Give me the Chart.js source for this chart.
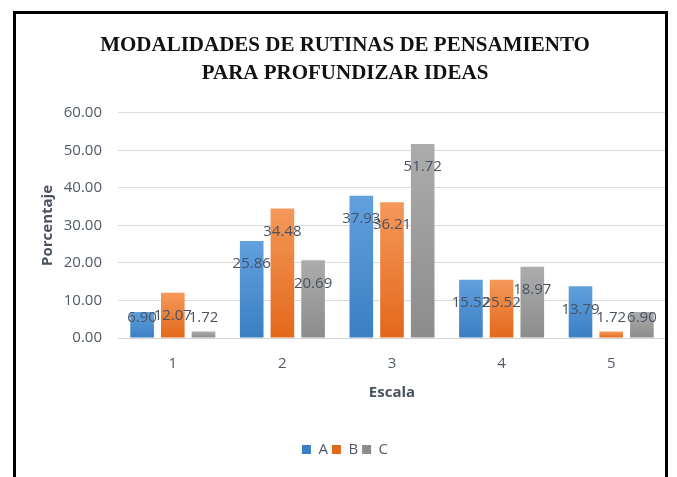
<!DOCTYPE html>
<html lang="es">
<head>
<meta charset="UTF-8">
<title>Modalidades de rutinas de pensamiento</title>
<script src="https://cdn.jsdelivr.net/npm/chart.js"></script>
<style>
    html, body { margin: 0; padding: 0; background: #fff; overflow: hidden; }
    #wrap { position: relative; width: 677px; height: 477px; }
    #frame {
        position: absolute; left: 13px; top: 11px; width: 649px; height: 500px;
        border: 3px solid #000; border-bottom: none; pointer-events: none;
    }
</style>
</head>
<body>
<div id="wrap">
    <canvas id="chart" width="677" height="477"></canvas>
    <div id="frame"></div>
</div>
<script>
    // data
    const escala = ['1', '2', '3', '4', '5'];
    const serieA = [6.90, 25.86, 37.93, 15.52, 13.79];
    const serieB = [12.07, 34.48, 36.21, 15.52, 1.72];
    const serieC = [1.72, 20.69, 51.72, 18.97, 6.90];
    const yTicks = [0, 10, 20, 30, 40, 50, 60];
    // the source chart prints "25.52" over the B bar of scale 4
    const labelOverrides = { '1-3': '25.52' };

    const tickFont = { family: "'Open Sans', sans-serif", size: 15 };
    const textColor = '#505a66';

    // vertical gradient per bar, like the office-style fill
    function barGradient(top, bottom) {
        return function (c) {
            const chart = c.chart;
            const y = chart.scales && chart.scales.y;
            if (!y || !chart.chartArea || c.raw === undefined) return bottom;
            const y0 = y.getPixelForValue(c.raw);
            const y1 = y.getPixelForValue(0);
            if (!(y1 > y0)) return bottom;
            const g = chart.ctx.createLinearGradient(0, y0, 0, y1);
            g.addColorStop(0, top);
            g.addColorStop(1, bottom);
            return g;
        };
    }

    const valueLabels = {
        id: 'valueLabels',
        afterDatasetsDraw(chart) {
            const ctx = chart.ctx;
            const floor = chart.scales.y.getPixelForValue(0) - 20;
            ctx.save();
            ctx.font = "15px 'Open Sans', sans-serif";
            ctx.fillStyle = '#4a5261';
            ctx.textAlign = 'center';
            ctx.textBaseline = 'middle';
            chart.data.datasets.forEach((ds, di) => {
                chart.getDatasetMeta(di).data.forEach((bar, i) => {
                    const txt = labelOverrides[di + '-' + i] || ds.data[i].toFixed(2);
                    ctx.fillText(txt, bar.x, Math.min(bar.y + 23, floor));
                });
            });
            ctx.restore();
        }
    };

    new Chart(document.getElementById('chart'), {
        type: 'bar',
        data: {
            labels: escala,
            datasets: [
                { label: 'A', data: serieA, backgroundColor: barGradient('#62a0de', '#3a7fc3') },
                { label: 'B', data: serieB, backgroundColor: barGradient('#f5985a', '#e2681a') },
                { label: 'C', data: serieC, backgroundColor: barGradient('#acacac', '#8c8c8c') }
            ]
        },
        options: {
            responsive: false,
            animation: false,
            devicePixelRatio: 1,
            categoryPercentage: 0.84,
            barPercentage: 0.77,
            layout: { padding: { left: 24, right: 11, top: 0, bottom: 10 } },
            plugins: {
                title: {
                    display: true,
                    text: ['MODALIDADES DE RUTINAS DE PENSAMIENTO', 'PARA PROFUNDIZAR IDEAS'],
                    font: { family: "'Liberation Serif', 'Times New Roman', serif", size: 21, weight: 'bold', lineHeight: 1.33 },
                    color: '#111',
                    padding: { top: 32, bottom: 25 }
                },
                legend: {
                    position: 'bottom',
                    labels: {
                        boxWidth: 9, boxHeight: 9, padding: 4,
                        color: textColor,
                        font: { family: "'Open Sans', sans-serif", size: 15 }
                    }
                },
                tooltip: { enabled: false }
            },
            scales: {
                x: {
                    grid: { display: false },
                    border: { color: '#d6d6d6' },
                    ticks: { color: textColor, font: tickFont, padding: 9 },
                    title: {
                        display: true, text: 'Escala', color: '#4a5261',
                        font: { family: "'Open Sans', sans-serif", size: 15, weight: 'bold' },
                        padding: { top: 4, bottom: 36 }
                    },
                    afterFit(scale) { scale.height = 100; }
                },
                y: {
                    min: 0, max: 60,
                    afterBuildTicks(scale) { scale.ticks = yTicks.map(v => ({ value: v })); },
                    grid: { color: '#dcdcdc', drawTicks: false },
                    border: { display: false },
                    ticks: {
                        color: textColor, font: tickFont, padding: 16,
                        callback: v => v.toFixed(2)
                    },
                    title: {
                        display: true, text: 'Porcentaje', color: '#4a5261',
                        font: { family: "'Open Sans', sans-serif", size: 15, weight: 'bold' },
                        padding: { top: 15, bottom: 0 }
                    },
                    afterFit(scale) { scale.width = 94; }
                }
            }
        },
        plugins: [valueLabels]
    });
</script>
</body>
</html>
